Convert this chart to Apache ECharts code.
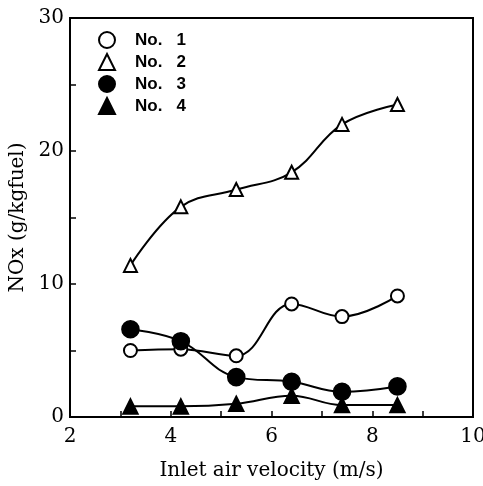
<!DOCTYPE html>
<html>
<head>
<meta charset="utf-8">
<style>
  html, body { margin: 0; padding: 0; background: #fff; }
  #chart { width: 483px; height: 486px; }
</style>
<script src="https://cdn.jsdelivr.net/npm/echarts@6/dist/echarts.min.js"></script>
</head>
<body>
<div id="chart"></div>
<script>
// inlet air velocity (m/s)
const velocity = [3.2, 4.2, 5.3, 6.4, 7.4, 8.5]
// NOx (g/kgfuel)
const no1 = [5.0, 5.1, 4.6, 8.5, 7.55, 9.1]
const no2 = [11.4, 15.8, 17.1, 18.4, 22.0, 23.5]
const no3 = [6.6, 5.7, 3.0, 2.65, 1.9, 2.3]
const no4 = [0.8, 0.8, 1.0, 1.6, 0.9, 0.9]
const names = ['No.   1', 'No.   2', 'No.   3', 'No.   4']

const pairs = ys => velocity.map((x, i) => [x, ys[i]])
const serif = 'DejaVu Serif'

const chart = echarts.init(document.getElementById('chart'))

function line(name, ys, symbol, size) {
  return {
    name: name,
    type: 'line',
    smooth: 0.4,
    data: pairs(ys),
    symbol: symbol,
    symbolSize: size,
    showSymbol: true,
    lineStyle: { color: '#000', width: 2 },
    itemStyle: { color: '#000', borderColor: '#000', borderWidth: 1.6 },
    emphasis: { disabled: true },
    z: 3
  }
}

chart.setOption({
  animation: false,
  backgroundColor: '#fff',
  grid: {
    left: 70, right: 10, top: 18, bottom: 69,
    outerBoundsMode: 'none',
    show: true, borderColor: '#000', borderWidth: 2
  },
  legend: {
    orient: 'vertical',
    left: 93,
    top: 26,
    itemWidth: 16,
    itemHeight: 16,
    itemGap: 4,
    data: [
      { name: names[0], icon: 'emptyCircle' },
      { name: names[1], icon: 'emptyTriangle' },
      { name: names[2], icon: 'circle' },
      { name: names[3], icon: 'triangle' }
    ],
    textStyle: {
      fontFamily: 'Liberation Sans',
      fontWeight: 'bold',
      fontSize: 17,
      color: '#000',
      padding: [0, 0, 0, 15]
    }
  },
  xAxis: {
    type: 'value',
    min: 2, max: 10, interval: 2,
    name: 'Inlet air velocity (m/s)',
    nameLocation: 'middle',
    nameGap: 44,
    nameTextStyle: { fontFamily: serif, fontSize: 20, color: '#000' },
    axisLine: { lineStyle: { color: '#000', width: 2 } },
    axisTick: { inside: true, length: 6, lineStyle: { color: '#000', width: 1.5 } },
    minorTick: { show: true, splitNumber: 2, length: 6, lineStyle: { color: '#000', width: 1.5 } },
    axisLabel: { fontFamily: serif, fontSize: 20, color: '#000', margin: 10 },
    splitLine: { show: false }
  },
  yAxis: {
    type: 'value',
    min: 0, max: 30, interval: 10,
    name: 'NOx (g/kgfuel)',
    nameLocation: 'middle',
    nameGap: 35,
    nameTextStyle: { fontFamily: serif, fontSize: 20, color: '#000' },
    axisLine: { show: true, lineStyle: { color: '#000', width: 2 } },
    axisTick: { inside: true, length: 6, lineStyle: { color: '#000', width: 1.5 } },
    minorTick: { show: true, splitNumber: 2, length: 6, lineStyle: { color: '#000', width: 1.5 } },
    axisLabel: { fontFamily: serif, fontSize: 20, color: '#000', margin: 6 },
    splitLine: { show: false }
  },
  series: [
    line(names[0], no1, 'emptyCircle', 13),
    line(names[1], no2, 'emptyTriangle', 13),
    line(names[2], no3, 'circle', 17),
    line(names[3], no4, 'triangle', 15)
  ]
})
</script>
</body>
</html>
